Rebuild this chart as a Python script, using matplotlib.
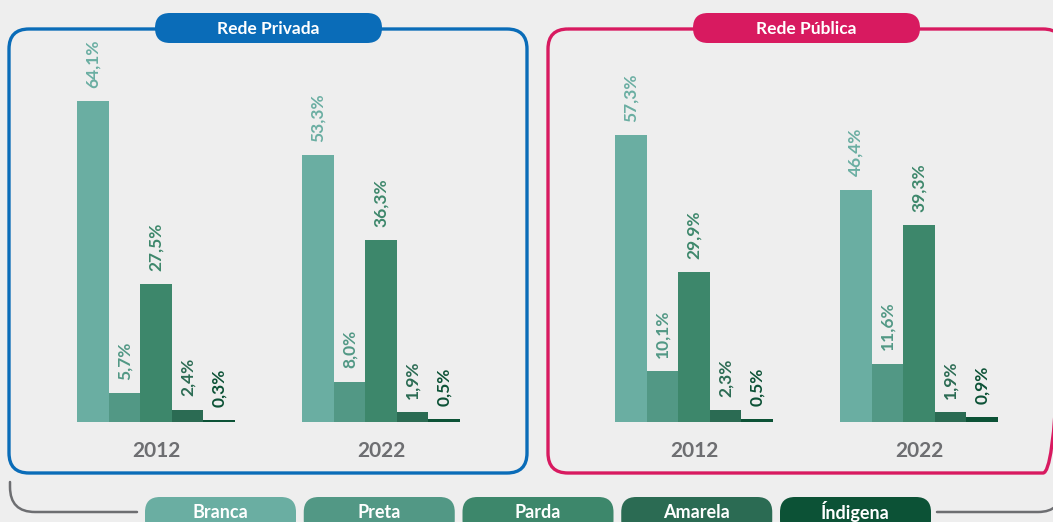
import matplotlib.pyplot as plt
import numpy as np
from matplotlib.patches import FancyBboxPatch, PathPatch
from matplotlib.path import Path

plt.rcParams['font.family'] = ['Lato', 'DejaVu Sans']

# data
years = ['2012', '2022']
groups = ['Branca', 'Preta', 'Parda', 'Amarela', 'Índigena']
colors = ['#6aaea2', '#529885', '#3d876b', '#2b6b53', '#0c5236']
privada = [[64.1, 5.7, 27.5, 2.4, 0.3],
           [53.3, 8.0, 36.3, 1.9, 0.5]]
publica = [[57.3, 10.1, 29.9, 2.3, 0.5],
           [46.4, 11.6, 39.3, 1.9, 0.9]]
panel_titles = ['Rede Privada', 'Rede Pública']

BG = '#eeeeee'
BLUE = '#0a6cb8'
PINK = '#d81a60'
GRAY = '#6d6e71'

W, H = 1053, 522
fig = plt.figure(figsize=(W / 100, H / 100), dpi=100, facecolor=BG)

# overlay in pixel units for the frames and pills
deco = fig.add_axes([0, 0, 1, 1], zorder=0)
deco.set_xlim(0, W)
deco.set_ylim(H, 0)
deco.axis('off')


def rbox(ax, x0, y0, x1, y1, r, **kw):
    p = FancyBboxPatch((x0, y0), x1 - x0, y1 - y0,
                       boxstyle=f'round,pad=0,rounding_size={r}', **kw)
    ax.add_patch(p)
    return p


# panel frames + title pills
frames = [(9, 527, BLUE, (155, 382)), (548, 1063, PINK, (693, 920))]
for (x0, x1, col, (px0, px1)), title in zip(frames, panel_titles):
    rbox(deco, x0, 29, x1, 473, 20, facecolor='none', edgecolor=col, lw=2.4)
    rbox(deco, px0, 13, px1, 43, 15, facecolor=col, edgecolor='none')
    deco.text((px0 + px1) / 2, 28.5, title, color='white', fontsize=12.5,
              fontweight='bold', ha='center', va='center')

# bracket lines at the bottom
left = Path([(10, 482), (10, 487), (10, 512), (35, 512), (137, 512)],
            [Path.MOVETO, Path.LINETO, Path.CURVE3, Path.CURVE3, Path.LINETO])
right = Path([(937, 512), (1038, 512), (1062, 512), (1062, 488)],
             [Path.MOVETO, Path.LINETO, Path.CURVE3, Path.CURVE3])
for p in (left, right):
    deco.add_patch(PathPatch(p, facecolor='none', edgecolor=GRAY, lw=1.8,
                             capstyle='round'))

# legend pills
for i, (name, col) in enumerate(zip(groups, colors)):
    x0 = 145 + i * 158.75
    rbox(deco, x0, 497, x0 + 151, 535, 15, facecolor=col, edgecolor='none')
    deco.text(x0 + 75.5, 518.5, name, color='white', fontsize=13,
              fontweight='bold', ha='center', va='baseline')

# bar panels
bw = 0.1404
x = np.arange(len(years))
axes_left = [43.5, 581.5]
for left_px, data in zip(axes_left, [privada, publica]):
    ax = fig.add_axes([left_px / W, 100.3 / H, 450 / W, 350.2 / H], zorder=1)
    ax.set_facecolor('none')
    vals = np.array(data)
    for j, (name, col) in enumerate(zip(groups, colors)):
        xs = x + (j - 2) * bw
        ax.bar(xs, vals[:, j], width=bw, color=col, linewidth=0)
        for xi, v in zip(xs, vals[:, j]):
            ax.annotate(f'{v:.1f}'.replace('.', ',') + '%', (xi, v),
                        xytext=(0, 9.5), textcoords='offset points',
                        rotation=90, ha='center', va='bottom',
                        color=col, fontsize=12.5, fontweight='bold')
    ax.set_xlim(-0.5, 1.5)
    ax.set_ylim(0, 70)
    ax.set_xticks(x, years)
    ax.tick_params(axis='x', length=0, pad=14, labelsize=15,
                   labelcolor=GRAY)
    for lbl in ax.get_xticklabels():
        lbl.set_fontweight('bold')
    ax.set_yticks([])
    for s in ax.spines.values():
        s.set_visible(False)

fig.savefig('out.png', dpi=100, facecolor=BG)
